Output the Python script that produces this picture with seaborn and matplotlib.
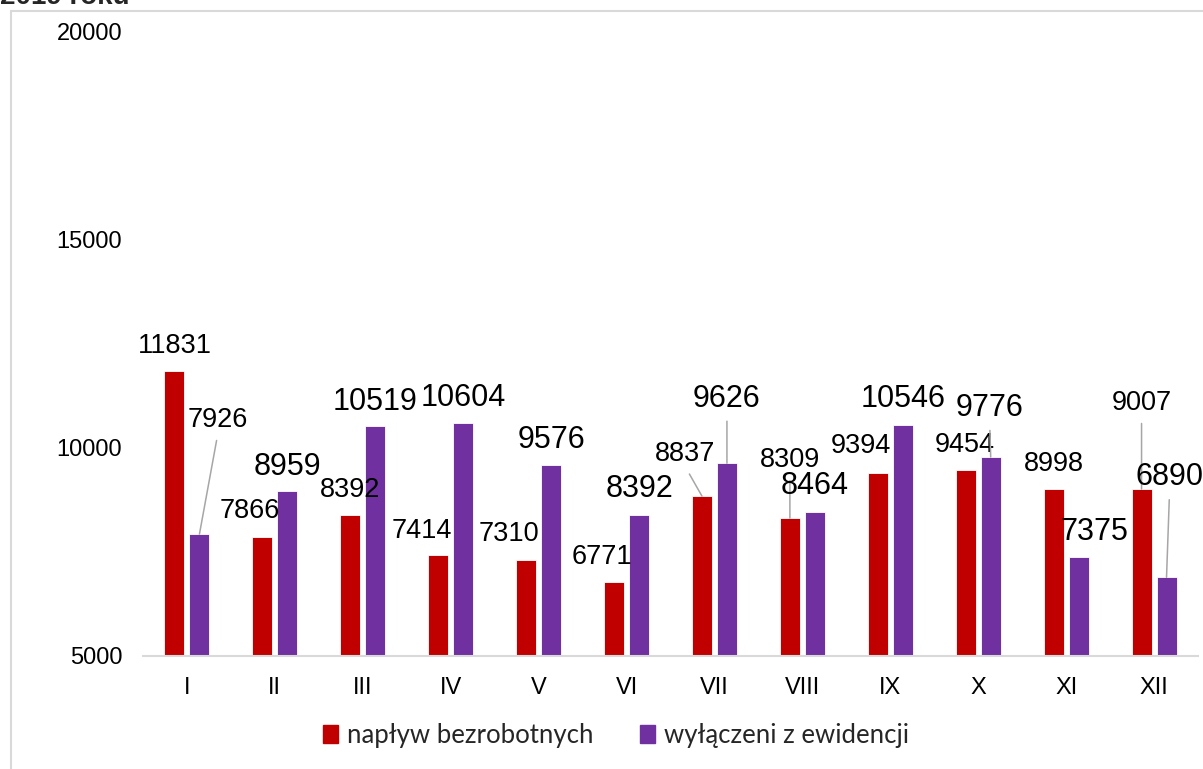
import pandas as pd
import matplotlib.pyplot as plt
import matplotlib.patches as mpatches
import seaborn as sns

# dane miesieczne 2019
months = ['I', 'II', 'III', 'IV', 'V', 'VI', 'VII', 'VIII', 'IX', 'X', 'XI', 'XII']
naplyw = [11831, 7866, 8392, 7414, 7310, 6771, 8837, 8309, 9394, 9454, 8998, 9007]
wylaczeni = [7926, 8959, 10519, 10604, 9576, 8392, 9626, 8464, 10546, 9776, 7375, 6890]
series = ['napływ bezrobotnych', 'wyłączeni z ewidencji']
colors = ['#C00000', '#7030A0']
yticks = [5000, 10000, 15000, 20000]

# przesuniecia etykiet (px): dx, dy od wierzcholka slupka do linii bazowej tekstu
red_off = [(0, 18), (-13, 18.5), (0, 18), (-16, 17), (-17, 19), (-12, 18),
           (-16.5, 35), (0, 51), (-16.5, 20), (-1, 18), (0, 18.5), (0, 79)]
red_lead = [False, False, False, False, False, False, True, True, False, False, False, True]
pur_off = [(18.5, 107), (0, 16), (0, 16), (0, 17), (0, 17), (0, 18),
           (0, 56.5), (0, 17.5), (0, 18), (-1, 41), (16, 17), (3, 92)]
pur_lead = [True, False, False, False, False, False, True, False, False, True, False, True]
pur_size = [19.5, 22, 22, 22, 22, 22, 22, 22, 22, 22, 22, 22]

df = pd.DataFrame({
    'miesiac': months * 2,
    'seria': [series[0]] * len(months) + [series[1]] * len(months),
    'liczba': naplyw + wylaczeni,
})

sns.set_theme(style='white')
plt.rcParams['font.family'] = ['Liberation Sans', 'DejaVu Sans']

fig = plt.figure(figsize=(12.03, 7.69), dpi=100)
ax = fig.add_axes([143 / 1203, 1 - 656 / 769, (1198 - 143) / 1203, (656 - 31) / 769])

sns.barplot(data=df, x='miesiac', y='liczba', hue='seria', order=months,
            hue_order=series, palette=dict(zip(series, colors)), saturation=1,
            width=0.568, gap=0.2, edgecolor='white', linewidth=0.6,
            legend=False, ax=ax)

ax.set_ylim(5000, 20000)
ax.set_xlim(-0.5, 11.5)
ax.set_yticks(yticks)
ax.set_yticklabels([str(t) for t in yticks])
ax.set_xlabel('')
ax.set_ylabel('')
ax.tick_params(axis='both', length=0, labelsize=17, colors='black', pad=15)
for s in ['left', 'right', 'top']:
    ax.spines[s].set_visible(False)
ax.spines['bottom'].set_color('#D9D9D9')
ax.spines['bottom'].set_linewidth(1.5)


def add_labels(container, offsets, leads, sizes):
    for bar, (dx, dy), lead, fs in zip(container, offsets, leads, sizes):
        x = bar.get_x() + bar.get_width() / 2
        y = bar.get_height()
        props = None
        if lead:
            props = dict(arrowstyle='-', color='#A6A6A6', lw=1.1,
                         shrinkA=3, shrinkB=0, relpos=(0.5, 0))
        ax.annotate(f'{int(y)}', xy=(x, y), xytext=(dx, dy),
                    textcoords='offset pixels', ha='center', va='baseline',
                    fontsize=fs, color='black', arrowprops=props,
                    annotation_clip=False)


add_labels(ax.containers[0], red_off, red_lead, [19.5] * len(months))
add_labels(ax.containers[1], pur_off, pur_lead, pur_size)

# ramka obszaru wykresu i uciety tytul (w oryginale tez uciety)
fig.patches.append(mpatches.Rectangle((11 / 1203, -0.05), 1.2, 1 - 11 / 769 + 0.05,
                                      transform=fig.transFigure, fill=False,
                                      edgecolor='#D9D9D9', linewidth=1.5))
fig.text(0.0, 1 - 4 / 769, '2019 roku', fontsize=20, fontweight='bold',
         ha='left', va='baseline')

handles = [mpatches.Patch(color=c, label=s) for s, c in zip(series, colors)]
fig.legend(handles=handles, loc='center', bbox_to_anchor=(616 / 1203, 1 - 735 / 769),
           ncol=2, frameon=False, prop={'family': 'Lato', 'size': 18.5},
           handlelength=0.6, handleheight=0.7, handletextpad=0.35,
           columnspacing=1.8)

fig.savefig('out.png', dpi=100)
